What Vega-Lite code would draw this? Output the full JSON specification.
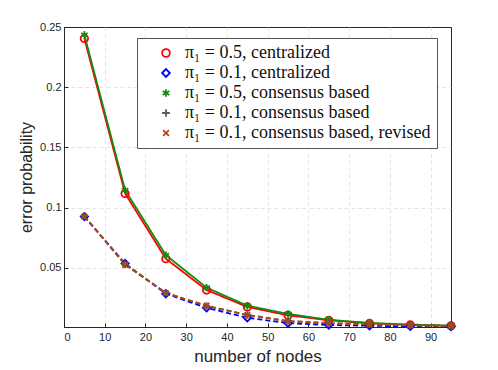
{
  "$schema": "https://vega.github.io/schema/vega-lite/v6.json",
  "autosize": "none",
  "width": 387,
  "height": 300,
  "padding": {"left": 64, "top": 27, "right": 47, "bottom": 43},
  "background": "white",
  "config": {
    "view": {"stroke": "#262626", "strokeWidth": 1},
    "axis": {
      "labelFont": "Liberation Sans", "labelFontSize": 11, "labelColor": "#262626",
      "titleFont": "Liberation Sans", "titleFontSize": 16, "titleFontWeight": "normal", "titleColor": "#262626",
      "domainColor": "#262626", "tickColor": "#262626", "tickSize": -4,
      "gridDash": [4, 3], "gridWidth": 0.8
    }
  },
  "data": {"values": [
    {"n": 5, "p": 0.2405, "s": "π₁ = 0.5, centralized"},
    {"n": 15, "p": 0.1117, "s": "π₁ = 0.5, centralized"},
    {"n": 25, "p": 0.0575, "s": "π₁ = 0.5, centralized"},
    {"n": 35, "p": 0.0315, "s": "π₁ = 0.5, centralized"},
    {"n": 45, "p": 0.0175, "s": "π₁ = 0.5, centralized"},
    {"n": 55, "p": 0.0105, "s": "π₁ = 0.5, centralized"},
    {"n": 65, "p": 0.0064, "s": "π₁ = 0.5, centralized"},
    {"n": 75, "p": 0.0038, "s": "π₁ = 0.5, centralized"},
    {"n": 85, "p": 0.0025, "s": "π₁ = 0.5, centralized"},
    {"n": 95, "p": 0.0018, "s": "π₁ = 0.5, centralized"},
    {"n": 5, "p": 0.0925, "s": "π₁ = 0.1, centralized"},
    {"n": 15, "p": 0.0535, "s": "π₁ = 0.1, centralized"},
    {"n": 25, "p": 0.0285, "s": "π₁ = 0.1, centralized"},
    {"n": 35, "p": 0.0167, "s": "π₁ = 0.1, centralized"},
    {"n": 45, "p": 0.0085, "s": "π₁ = 0.1, centralized"},
    {"n": 55, "p": 0.0040, "s": "π₁ = 0.1, centralized"},
    {"n": 65, "p": 0.0025, "s": "π₁ = 0.1, centralized"},
    {"n": 75, "p": 0.0018, "s": "π₁ = 0.1, centralized"},
    {"n": 85, "p": 0.0014, "s": "π₁ = 0.1, centralized"},
    {"n": 95, "p": 0.0012, "s": "π₁ = 0.1, centralized"},
    {"n": 5, "p": 0.2435, "s": "π₁ = 0.5, consensus based"},
    {"n": 15, "p": 0.1145, "s": "π₁ = 0.5, consensus based"},
    {"n": 25, "p": 0.0605, "s": "π₁ = 0.5, consensus based"},
    {"n": 35, "p": 0.0335, "s": "π₁ = 0.5, consensus based"},
    {"n": 45, "p": 0.0185, "s": "π₁ = 0.5, consensus based"},
    {"n": 55, "p": 0.0117, "s": "π₁ = 0.5, consensus based"},
    {"n": 65, "p": 0.0068, "s": "π₁ = 0.5, consensus based"},
    {"n": 75, "p": 0.0042, "s": "π₁ = 0.5, consensus based"},
    {"n": 85, "p": 0.0028, "s": "π₁ = 0.5, consensus based"},
    {"n": 95, "p": 0.0020, "s": "π₁ = 0.5, consensus based"},
    {"n": 5, "p": 0.0930, "s": "π₁ = 0.1, consensus based"},
    {"n": 15, "p": 0.0530, "s": "π₁ = 0.1, consensus based"},
    {"n": 25, "p": 0.0292, "s": "π₁ = 0.1, consensus based"},
    {"n": 35, "p": 0.0182, "s": "π₁ = 0.1, consensus based"},
    {"n": 45, "p": 0.0108, "s": "π₁ = 0.1, consensus based"},
    {"n": 55, "p": 0.0058, "s": "π₁ = 0.1, consensus based"},
    {"n": 65, "p": 0.0040, "s": "π₁ = 0.1, consensus based"},
    {"n": 75, "p": 0.0030, "s": "π₁ = 0.1, consensus based"},
    {"n": 85, "p": 0.0022, "s": "π₁ = 0.1, consensus based"},
    {"n": 95, "p": 0.0016, "s": "π₁ = 0.1, consensus based"},
    {"n": 5, "p": 0.0925, "s": "π₁ = 0.1, consensus based, revised"},
    {"n": 15, "p": 0.0525, "s": "π₁ = 0.1, consensus based, revised"},
    {"n": 25, "p": 0.0290, "s": "π₁ = 0.1, consensus based, revised"},
    {"n": 35, "p": 0.0185, "s": "π₁ = 0.1, consensus based, revised"},
    {"n": 45, "p": 0.0108, "s": "π₁ = 0.1, consensus based, revised"},
    {"n": 55, "p": 0.0056, "s": "π₁ = 0.1, consensus based, revised"},
    {"n": 65, "p": 0.0040, "s": "π₁ = 0.1, consensus based, revised"},
    {"n": 75, "p": 0.0030, "s": "π₁ = 0.1, consensus based, revised"},
    {"n": 85, "p": 0.0022, "s": "π₁ = 0.1, consensus based, revised"},
    {"n": 95, "p": 0.0016, "s": "π₁ = 0.1, consensus based, revised"}
  ]},
  "encoding": {
    "x": {"field": "n", "type": "quantitative",
      "scale": {"domain": [0, 95], "nice": false, "zero": false},
      "axis": {"values": [0, 10, 20, 30, 40, 50, 60, 70, 80, 90], "title": "number of nodes", "titleFontSize": 17, "titlePadding": 6, "labelPadding": 8, "gridColor": "#dedede"}},
    "y": {"field": "p", "type": "quantitative",
      "scale": {"domain": [0.0008, 0.25], "nice": false, "zero": false},
      "axis": {"values": [0.05, 0.1, 0.15, 0.2, 0.25], "format": "~g", "title": "error probability", "titlePadding": 5, "labelPadding": 7,
        "gridColor": {"condition": {"test": "datum.value >= 0.25", "value": "transparent"}, "value": "#dedede"}}},
    "color": {"field": "s", "type": "nominal",
      "scale": {
        "domain": ["π₁ = 0.5, centralized", "π₁ = 0.1, centralized", "π₁ = 0.5, consensus based", "π₁ = 0.1, consensus based", "π₁ = 0.1, consensus based, revised"],
        "range": ["#ff0000", "#0000ff", "#128c12", "#5a5a5a", "#b0480e"]},
      "legend": {
        "title": null, "orient": "none", "legendX": 73, "legendY": 11,
        "fillColor": "white", "strokeColor": "#555555", "padding": 6,
        "labelFont": "Liberation Serif", "labelFontSize": 18, "labelColor": "#111111",
        "symbolSize": 60, "symbolStrokeWidth": 1.8, "symbolOffset": 14, "rowPadding": 2, "labelOffset": 10, "labelLimit": 400
      }}
  },
  "layer": [
    {
      "mark": {"type": "line", "strokeWidth": 1.8},
      "encoding": {
        "strokeDash": {"condition": {"test": "indexof(datum.s, '0.1') >= 0", "value": [5, 3]}, "value": [1, 0]},
        "order": {"field": "n"}
      }
    },
    {
      "mark": {"type": "point", "filled": false, "strokeWidth": 1.8, "size": 55, "opacity": 1},
      "encoding": {
        "shape": {"field": "s", "type": "nominal",
          "scale": {
            "domain": ["π₁ = 0.5, centralized", "π₁ = 0.1, centralized", "π₁ = 0.5, consensus based", "π₁ = 0.1, consensus based", "π₁ = 0.1, consensus based, revised"],
            "range": ["circle", "diamond", "M0,-1L0,1M-0.87,-0.5L0.87,0.5M-0.87,0.5L0.87,-0.5", "M-1,0L1,0M0,-1L0,1", "M-0.75,-0.75L0.75,0.75M-0.75,0.75L0.75,-0.75"]}
        }
      }
    }
  ]
}
